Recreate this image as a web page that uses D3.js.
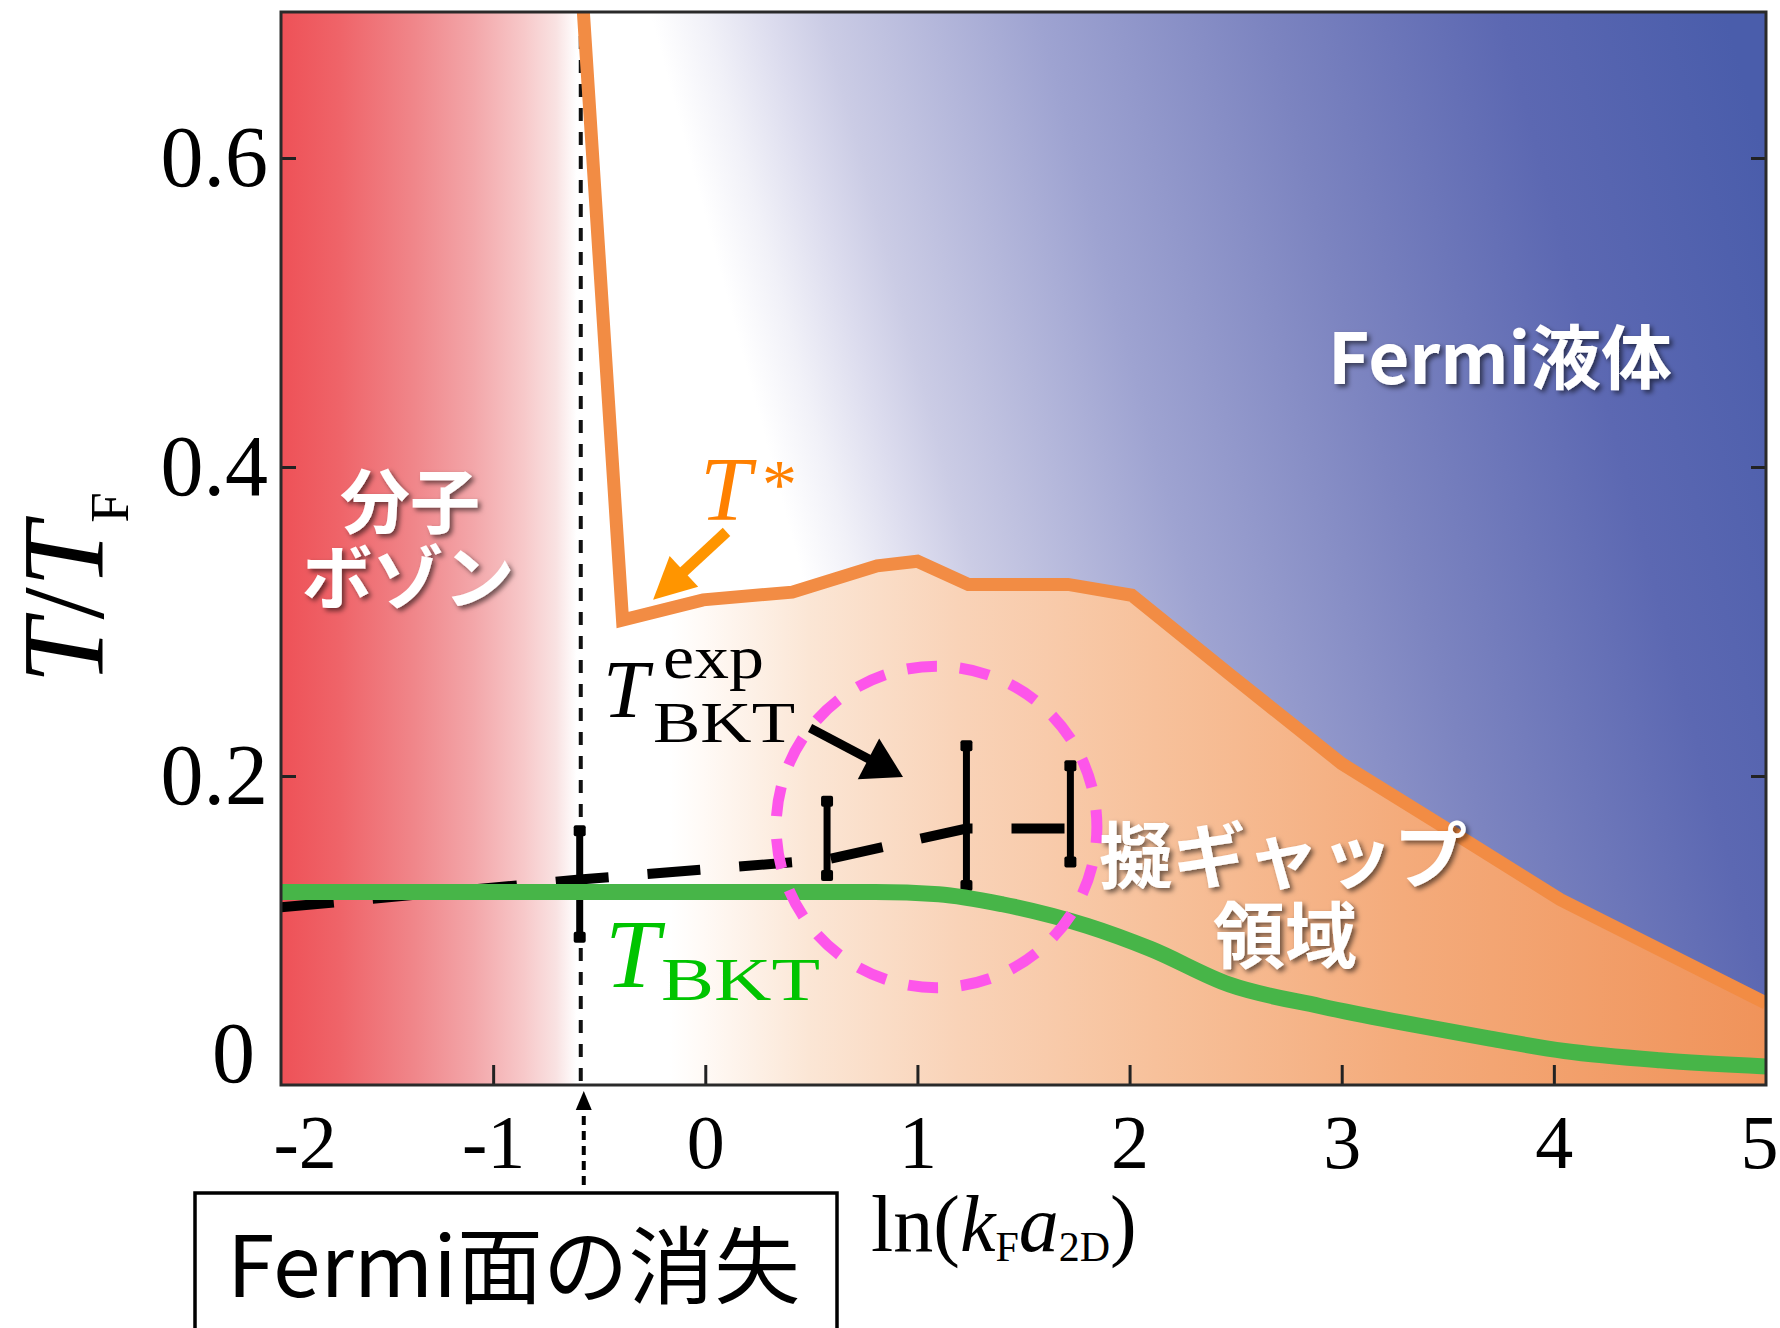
<!DOCTYPE html>
<html lang="ja"><head><meta charset="utf-8">
<script src="https://cdn.jsdelivr.net/npm/d3@7/dist/d3.min.js"></script>
<style>
html,body{margin:0;padding:0;background:#fff;}
svg{display:block;}
</style></head><body>
<svg id="chart" width="1780" height="1328"></svg>
<script>
// ---------------- data ----------------
const xTickValues = [-2, -1, 0, 1, 2, 3, 4, 5];
const yTickValues = [0, 0.2, 0.4, 0.6];
const xDomain = [-2, 5];
const yDomain = [0, 0.6945];
const fermiSurfaceX = -0.587;

// T* crossover line
const tStarX = [-0.582, -0.39, -0.01, 0.41, 0.81, 1.0, 1.24, 1.71, 2.01, 2.47, 3.0, 3.6, 4.03, 5.0];
const tStarY = [0.71, 0.301, 0.314, 0.319, 0.336, 0.339, 0.324, 0.324, 0.317, 0.266, 0.208, 0.157, 0.120, 0.053];

// theoretical T_BKT
const tBktX = [-2, 0, 0.8, 1.1, 1.4, 1.8, 2.1, 2.47, 2.9, 3.3, 3.7, 4.05, 4.5, 5.0];
const tBktY = [0.125, 0.125, 0.125, 0.1235, 0.117, 0.103, 0.088, 0.065, 0.051, 0.040, 0.030, 0.022, 0.016, 0.012];

// experimental T_BKT
const expLineX = [-2, -0.592, 0.574, 1.231, 1.721];
const expLineY = [0.115, 0.133, 0.146, 0.166, 0.166];
const expBarX = [-0.592, 0.574, 1.231, 1.721];
const expBarLow = [0.0934, 0.1333, 0.1269, 0.142];
const expBarHigh = [0.1668, 0.186, 0.2218, 0.2089];

// annotations (data units)
const circleCenter = [1.09, 0.167];
const circleRadius = [0.756, 0.1040];
const tStarArrow = [[0.10, 0.358], [-0.246, 0.314]];
const expArrow = [[0.494, 0.231], [0.932, 0.1994]];

// ---------------- setup ----------------
const svg = d3.select('#chart');
const x = d3.scaleLinear().domain(xDomain).range([281, 1766]);
const y = d3.scaleLinear().domain(yDomain).range([1085, 12]);
const X0 = x(xDomain[0]), X1 = x(xDomain[1]), Y0 = y(0), YT = y(yDomain[1]);
const SERIF = "'Liberation Serif','Times New Roman',Times,serif";
const JP = "'Noto Sans CJK JP','Noto Sans',sans-serif";

const defs = svg.append('defs');
function lin(id, x1, y1, x2, y2, stops) {
  const g = defs.append('linearGradient').attr('id', id).attr('gradientUnits', 'userSpaceOnUse')
    .attr('x1', x1).attr('y1', y1).attr('x2', x2).attr('y2', y2);
  stops.forEach(s => g.append('stop').attr('offset', s[0]).attr('stop-color', s[1]));
}
lin('gRed', X0, 0, x(fermiSurfaceX) - 4, 0, [
  [0, '#ee5157'], [0.2, '#ef6469'], [0.45, '#f0868a'], [0.65, '#f3a6a9'],
  [0.82, '#f7c8c9'], [0.93, '#f9e2e2'], [1, '#ffffff']]);
lin('gBlue', 650, 13, 1653, -258, [
  [0, '#ffffff'], [0.05, '#f1f1f8'], [0.11, '#dcdcee'], [0.16, '#cbcce5'],
  [0.36, '#9ea3d1'], [0.57, '#7c84c0'], [0.79, '#5c68b2'], [1, '#4a5dab']]);
lin('gOrange', 670, 0, X1, 0, [
  [0, '#ffffff'], [0.03, '#fffaf6'], [0.127, '#fbe6d5'], [0.262, '#f9d3b8'],
  [0.443, '#f7c19b'], [0.669, '#f4ab7b'], [1, '#f0935a']]);

defs.append('clipPath').attr('id', 'clip').append('rect')
  .attr('x', X0).attr('y', YT).attr('width', X1 - X0).attr('height', Y0 - YT);

const flt = defs.append('filter').attr('id', 'shadow')
  .attr('x', '-20%').attr('y', '-30%').attr('width', '140%').attr('height', '160%');
flt.append('feDropShadow').attr('dx', 3).attr('dy', 3).attr('stdDeviation', 2.5)
  .attr('flood-color', '#000').attr('flood-opacity', 0.55);

// ---------------- plot area ----------------
const plot = svg.append('g').attr('clip-path', 'url(#clip)');
plot.append('rect').attr('x', X0).attr('y', YT).attr('width', X1 - X0).attr('height', Y0 - YT).attr('fill', '#fff');
plot.append('rect').attr('x', X0).attr('y', YT).attr('width', x(fermiSurfaceX) - X0).attr('height', Y0 - YT)
  .attr('fill', 'url(#gRed)');

const tStar = tStarX.map((d, i) => ({ x: d, y: tStarY[i] }));
plot.append('path').datum(tStar)
  .attr('d', d3.area().x(d => x(d.x)).y0(YT).y1(d => y(d.y)))
  .attr('fill', 'url(#gBlue)');
plot.append('path').datum(tStar)
  .attr('d', d3.area().x(d => x(d.x)).y0(Y0).y1(d => y(d.y)))
  .attr('fill', 'url(#gOrange)');

// Fermi-surface vertical dashed line
plot.append('line').attr('x1', x(fermiSurfaceX)).attr('x2', x(fermiSurfaceX))
  .attr('y1', YT).attr('y2', Y0)
  .attr('stroke', '#111').attr('stroke-width', 4).attr('stroke-dasharray', '13,11');

// T* line
plot.append('path').datum(tStar)
  .attr('d', d3.line().x(d => x(d.x)).y(d => y(d.y)))
  .attr('fill', 'none').attr('stroke', '#f28c44').attr('stroke-width', 13)
  .attr('stroke-linejoin', 'miter');

// experimental dashed line
const expLine = expLineX.map((d, i) => ({ x: d, y: expLineY[i] }));
plot.append('path').datum(expLine)
  .attr('d', d3.line().x(d => x(d.x)).y(d => y(d.y)))
  .attr('fill', 'none').attr('stroke', '#000').attr('stroke-width', 10)
  .attr('stroke-dasharray', '53,39');

// error bars
const bars = expBarX.map((d, i) => ({ x: d, lo: expBarLow[i], hi: expBarHigh[i] }));
const eb = plot.append('g');
eb.selectAll('line').data(bars).join('line')
  .attr('x1', d => x(d.x)).attr('x2', d => x(d.x))
  .attr('y1', d => y(d.lo)).attr('y2', d => y(d.hi))
  .attr('stroke', '#000').attr('stroke-width', 7);
eb.selectAll('rect.capH').data(bars).join('rect').attr('class', 'capH')
  .attr('x', d => x(d.x) - 6).attr('y', d => y(d.hi) - 2).attr('width', 12).attr('height', 11).attr('rx', 2)
  .attr('fill', '#000');
eb.selectAll('rect.capL').data(bars).join('rect').attr('class', 'capL')
  .attr('x', d => x(d.x) - 6).attr('y', d => y(d.lo) - 9).attr('width', 12).attr('height', 11).attr('rx', 2)
  .attr('fill', '#000');

// theoretical T_BKT (green)
const tBkt = tBktX.map((d, i) => ({ x: d, y: tBktY[i] }));
plot.append('path').datum(tBkt)
  .attr('d', d3.line().curve(d3.curveMonotoneX).x(d => x(d.x)).y(d => y(d.y)))
  .attr('fill', 'none').attr('stroke', '#47b548').attr('stroke-width', 16);

// magenta dashed circle
plot.append('ellipse')
  .attr('cx', x(circleCenter[0])).attr('cy', y(circleCenter[1]))
  .attr('rx', x(circleCenter[0] + circleRadius[0]) - x(circleCenter[0]))
  .attr('ry', y(circleCenter[1]) - y(circleCenter[1] + circleRadius[1]))
  .attr('fill', 'none').attr('stroke', '#fd55ea').attr('stroke-width', 11)
  .attr('stroke-dasharray', '30,22.9').attr('stroke-dashoffset', 14);

// ---------------- axes ----------------
function styleAxis(g) {
  g.select('.domain').remove();
  g.selectAll('.tick line').attr('stroke', '#222').attr('stroke-width', 3);
  g.selectAll('.tick text').attr('fill', '#000').attr('font-family', SERIF);
}
const gx = svg.append('g').attr('transform', `translate(0,${Y0})`)
  .call(d3.axisBottom(x).tickValues(xTickValues).tickSize(-20).tickPadding(29).tickFormat(d => String(d)));
styleAxis(gx);
gx.selectAll('.tick text').attr('font-size', 76);
gx.selectAll('.tick').filter(d => d === -2).select('text').attr('text-anchor', 'start').attr('x', -8);
gx.selectAll('.tick').filter(d => d === 5).select('text').attr('text-anchor', 'end').attr('x', 12);
gx.selectAll('.tick').filter(d => d === -2 || d === 5).select('line').remove();

const gy = svg.append('g').attr('transform', `translate(${X0},0)`)
  .call(d3.axisLeft(y).tickValues(yTickValues).tickSize(-15).tickPadding(13)
    .tickFormat(d => d === 0 ? '0' : d.toFixed(1)));
styleAxis(gy);
gy.selectAll('.tick text').attr('font-size', 86);
gy.selectAll('.tick').filter(d => d === 0).select('text').attr('transform', 'translate(-13,-31)');
gy.selectAll('.tick').filter(d => d === 0).select('line').remove();

const gyr = svg.append('g').attr('transform', `translate(${X1},0)`)
  .call(d3.axisRight(y).tickValues(yTickValues).tickSize(-15).tickFormat(''));
styleAxis(gyr);
gyr.selectAll('.tick').filter(d => d === 0).select('line').remove();

// frame
svg.append('rect').attr('x', X0).attr('y', YT).attr('width', X1 - X0).attr('height', Y0 - YT)
  .attr('fill', 'none').attr('stroke', '#2a2a2a').attr('stroke-width', 3);

// axis titles
const yl = svg.append('text').attr('transform', 'translate(103,588) rotate(-90)')
  .attr('text-anchor', 'middle').attr('font-family', SERIF).attr('font-size', 116).attr('fill', '#000');
yl.append('tspan').attr('font-style', 'italic').text('T');
yl.append('tspan').text('/');
yl.append('tspan').attr('font-style', 'italic').text('T');
yl.append('tspan').attr('font-size', 55).attr('dy', 25).text('F');

const xl = svg.append('text').attr('x', 871).attr('y', 1251)
  .attr('font-family', SERIF).attr('font-size', 80).attr('fill', '#000');
xl.append('tspan').text('ln(');
xl.append('tspan').attr('font-style', 'italic').text('k');
xl.append('tspan').attr('font-size', 42).attr('dy', 10).text('F');
xl.append('tspan').attr('font-style', 'italic').attr('dy', -10).text('a');
xl.append('tspan').attr('font-size', 42).attr('dy', 10).text('2D');
xl.append('tspan').attr('dy', -10).text(')');

// ---------------- arrows ----------------
function arrow(p0, p1, headLen, headHalf, width, color) {
  const dx = p1[0] - p0[0], dy = p1[1] - p0[1], L = Math.hypot(dx, dy);
  const ux = dx / L, uy = dy / L, bx = p1[0] - ux * headLen, by = p1[1] - uy * headLen;
  svg.append('line').attr('x1', p0[0]).attr('y1', p0[1]).attr('x2', bx + ux * 2).attr('y2', by + uy * 2)
    .attr('stroke', color).attr('stroke-width', width);
  svg.append('path').attr('d',
    `M${p1[0]},${p1[1]}L${bx - uy * headHalf},${by + ux * headHalf}L${bx + uy * headHalf},${by - ux * headHalf}Z`)
    .attr('fill', color);
}
arrow([x(tStarArrow[0][0]), y(tStarArrow[0][1])], [x(tStarArrow[1][0]), y(tStarArrow[1][1])], 42, 21, 11, '#ff9500');
arrow([x(expArrow[0][0]), y(expArrow[0][1])], [x(expArrow[1][0]), y(expArrow[1][1])], 39, 23, 9, '#000');

// Fermi-surface dotted arrow below the axis
const fx = x(fermiSurfaceX) + 3;
svg.append('line').attr('x1', fx).attr('x2', fx).attr('y1', 1185).attr('y2', Y0 + 24)
  .attr('stroke', '#000').attr('stroke-width', 4).attr('stroke-dasharray', '9,6');
svg.append('path').attr('d', `M${fx},${Y0 + 6}L${fx - 8},${Y0 + 25}L${fx + 8},${Y0 + 25}Z`).attr('fill', '#000');

// box
svg.append('rect').attr('x', 195).attr('y', 1193).attr('width', 642).attr('height', 160)
  .attr('fill', '#fff').attr('stroke', '#000').attr('stroke-width', 3.5);
svg.append('text').attr('x', 227).attr('y', 1297).attr('font-family', JP).attr('font-size', 84)
  .attr('textLength', 573).attr('lengthAdjust', 'spacingAndGlyphs').attr('fill', '#000').text('Fermi面の消失');

// ---------------- labels ----------------
function jpLabel(txt, cx, base, size, len) {
  const t = svg.append('text').attr('x', cx).attr('y', base).attr('text-anchor', 'middle')
    .attr('font-family', JP).attr('font-weight', 700).attr('font-size', size)
    .attr('fill', '#fff').attr('filter', 'url(#shadow)').text(txt);
  if (len) t.attr('textLength', len).attr('lengthAdjust', 'spacingAndGlyphs');
}
jpLabel('Fermi液体', 1500, 384, 70, 344);
jpLabel('分子', 410, 528, 70);
jpLabel('ボゾン', 408, 604, 70, 213);
jpLabel('擬ギャップ', 1283, 882, 72, 368);
jpLabel('領域', 1285, 962, 72);

// T*
svg.append('text').attr('x', 700).attr('y', 520).attr('font-family', SERIF).attr('font-style', 'italic')
  .attr('font-size', 92).attr('fill', '#ff8000').text('T');
svg.append('text').attr('x', 762).attr('y', 508).attr('font-family', SERIF)
  .attr('font-size', 70).attr('fill', '#ff8000').text('*');

// T_BKT^exp
svg.append('text').attr('x', 603).attr('y', 717).attr('font-family', SERIF).attr('font-style', 'italic')
  .attr('font-size', 82).attr('fill', '#000').text('T');
svg.append('text').attr('x', 663).attr('y', 678).attr('font-family', SERIF)
  .attr('font-size', 62).attr('textLength', 101).attr('lengthAdjust', 'spacingAndGlyphs').attr('fill', '#000').text('exp');
svg.append('text').attr('x', 653).attr('y', 742).attr('font-family', SERIF)
  .attr('font-size', 58).attr('textLength', 142).attr('lengthAdjust', 'spacingAndGlyphs').attr('fill', '#000').text('BKT');

// T_BKT (green)
svg.append('text').attr('x', 605).attr('y', 987).attr('font-family', SERIF).attr('font-style', 'italic')
  .attr('font-size', 98).attr('fill', '#00c400').text('T');
svg.append('text').attr('x', 661).attr('y', 1000).attr('font-family', SERIF)
  .attr('font-size', 62).attr('textLength', 159).attr('lengthAdjust', 'spacingAndGlyphs').attr('fill', '#00c400').text('BKT');
</script>
</body></html>
